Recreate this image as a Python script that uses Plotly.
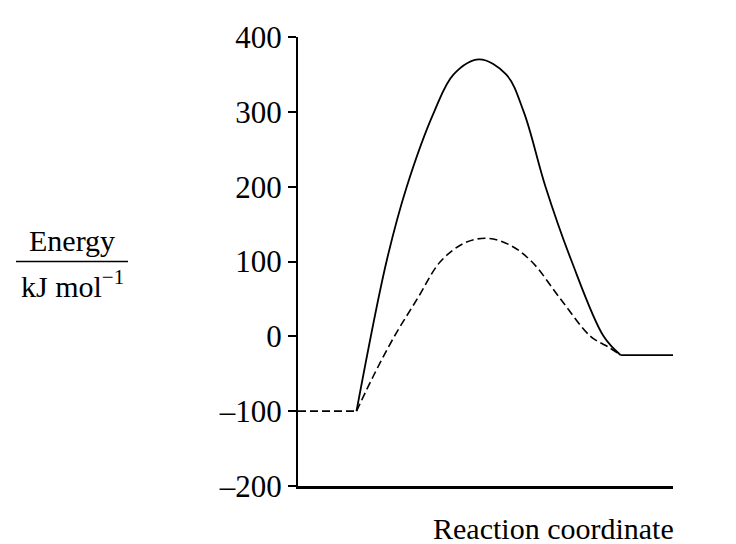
import plotly.graph_objects as go

# Reaction coordinate is arbitrary (0..10 along the axis)
reactant_x = [0.0, 1.56]
reactant_y = [-100, -100]

uncat_x = [1.56, 2.36, 2.9, 3.63, 4.15, 4.83, 5.55, 6.02, 6.6, 7.3, 8.15, 8.6]
uncat_y = [-100, 100, 200, 300, 350, 370, 350, 300, 200, 100, 0, -25]

cat_x = [1.56, 2.04, 2.57, 3.18, 3.8, 4.45, 5.04, 5.65, 6.23, 7.0, 7.8, 8.3, 8.6]
cat_y = [-100, -50, 0, 50, 100, 125, 131, 122, 100, 50, 0, -15, -25]

product_x = [8.6, 10.0]
product_y = [-25, -25]

ytick_vals = [-200, -100, 0, 100, 200, 300, 400]
ytick_text = ["–200", "–100", "0", "100", "200", "300", "400"]

FONT = "Liberation Serif, Times New Roman, serif"
L, R, T, B = 290, 665, 20, 478
W, H = 736, 544

def px(xp):
    return (xp - L) / (R - L)

def py(yp):
    return (B - yp) / (B - T)

fig = go.Figure()
fig.add_trace(go.Scatter(x=reactant_x, y=reactant_y, mode="lines",
                         line=dict(color="black", width=1.6, dash="8px,4px")))
fig.add_trace(go.Scatter(x=cat_x, y=cat_y, mode="lines",
                         line=dict(color="black", width=1.6, dash="8px,4px", shape="spline", smoothing=1.0)))
fig.add_trace(go.Scatter(x=uncat_x, y=uncat_y, mode="lines",
                         line=dict(color="black", width=1.8, shape="spline", smoothing=1.0)))
fig.add_trace(go.Scatter(x=product_x, y=product_y, mode="lines",
                         line=dict(color="black", width=1.8)))

fig.update_layout(
    width=W, height=H,
    margin=dict(l=L, r=W - R, t=T, b=H - B),
    paper_bgcolor="white", plot_bgcolor="white",
    showlegend=False,
    font=dict(family=FONT, color="black", size=31),
    xaxis=dict(range=[0, 10], showline=True, linecolor="black", linewidth=2.5,
               showticklabels=False, ticks="", showgrid=False, zeroline=False),
    yaxis=dict(range=[-200, 400], showline=True, linecolor="black", linewidth=2,
               tickvals=ytick_vals, ticktext=ytick_text, ticks="outside",
               ticklen=8, tickwidth=2, tickcolor="black",
               tickfont=dict(family=FONT, size=31, color="black"),
               showgrid=False, zeroline=False),
    annotations=[
        dict(text="Energy", xref="paper", yref="paper", x=px(64), y=py(228),
             showarrow=False, xanchor="center", yanchor="middle",
             font=dict(family=FONT, size=30, color="black")),
        dict(text="kJ mol<sup>−1</sup>", xref="paper", yref="paper", x=px(64), y=py(272),
             showarrow=False, xanchor="center", yanchor="middle",
             font=dict(family=FONT, size=30, color="black")),
        dict(text="Reaction coordinate", xref="paper", yref="paper", x=px(545), y=py(521),
             showarrow=False, xanchor="center", yanchor="middle",
             font=dict(family=FONT, size=30, color="black")),
    ],
    shapes=[
        dict(type="line", xref="paper", yref="paper", x0=px(8), x1=px(120),
             y0=py(249), y1=py(249), line=dict(color="black", width=1.5)),
    ],
)

fig.write_html("out.html")
